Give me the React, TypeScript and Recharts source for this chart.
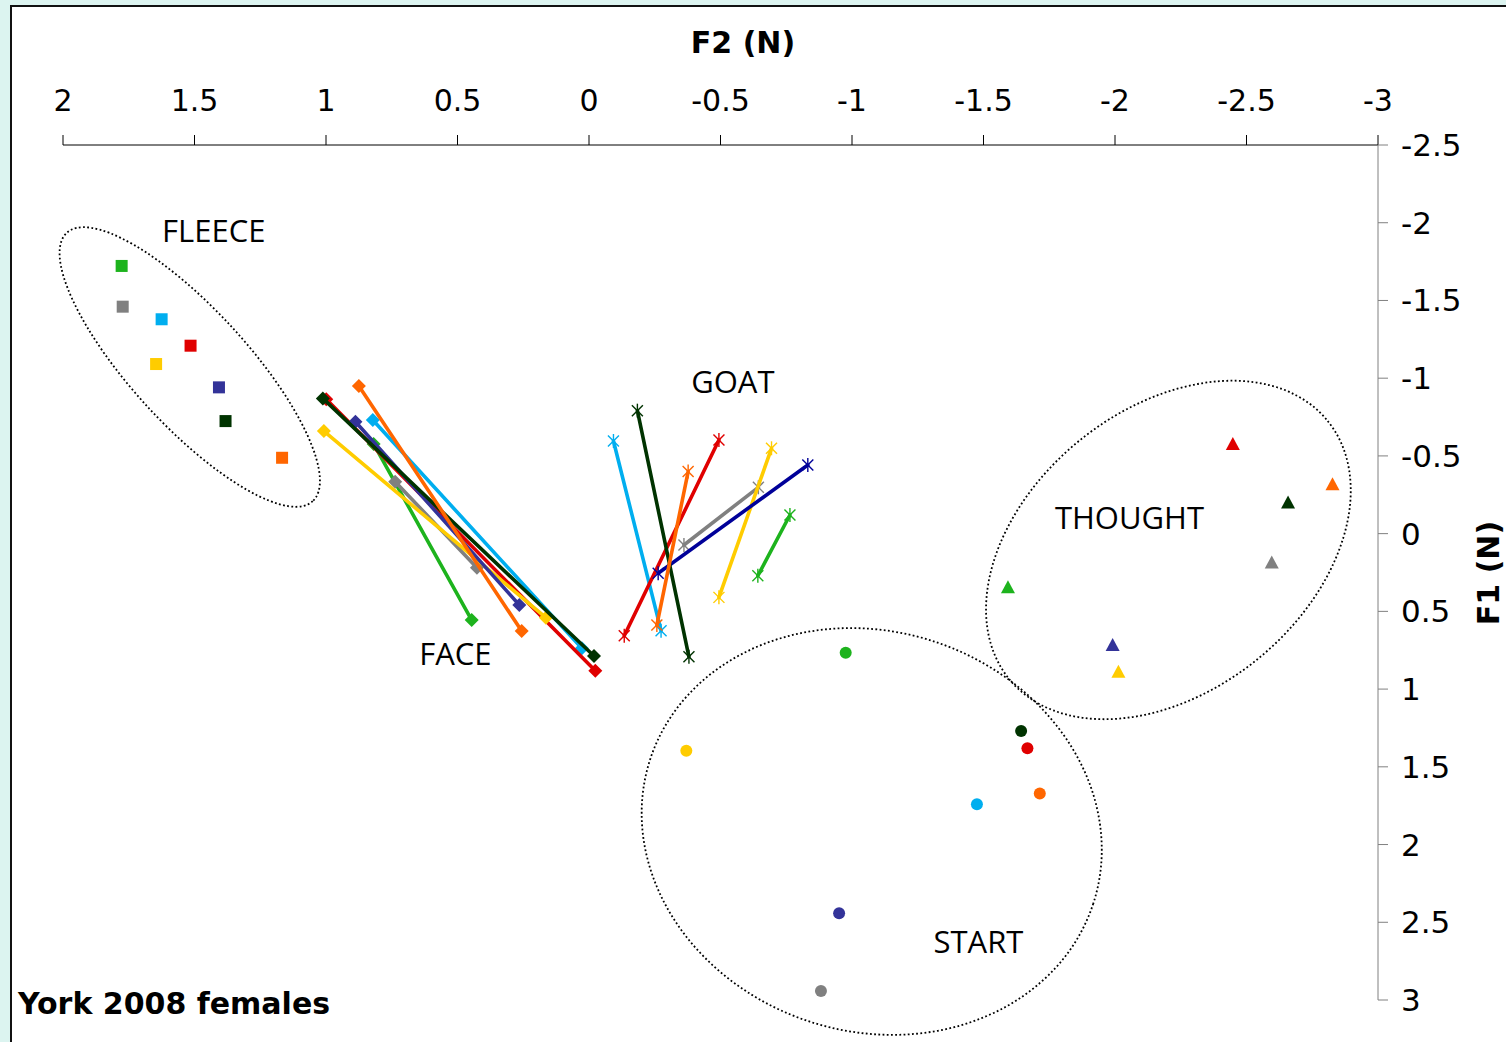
import React from 'react'
import { ScatterChart, Scatter, XAxis, YAxis, ReferenceDot } from 'recharts'

// one colour per speaker, same order in every vowel array
const speakers = ['S1', 'S2', 'S3', 'S4', 'S5', 'S6', 'S7', 'S8']
const speakerColours = ['#1DB31D', '#808080', '#00AEEF', '#E00000', '#FFCC00', '#333399', '#003300', '#FF6600']
const goatColours = ['#1DB31D', '#808080', '#00AEEF', '#E00000', '#FFCC00', '#000099', '#003300', '#FF6600']

const f2Ticks = [2, 1.5, 1, 0.5, 0, -0.5, -1, -1.5, -2, -2.5, -3]
const f1Ticks = [-2.5, -2, -1.5, -1, -0.5, 0, 0.5, 1, 1.5, 2, 2.5, 3]

const fleeceF2 = [1.777, 1.773, 1.625, 1.515, 1.646, 1.407, 1.382, 1.167]
const fleeceF1 = [-1.722, -1.46, -1.379, -1.209, -1.091, -0.941, -0.724, -0.488]

const faceOnsetF2 = [0.819, 0.737, 0.822, 0.999, 1.008, 0.888, 1.012, 0.875]
const faceOnsetF1 = [-0.577, -0.334, -0.731, -0.864, -0.66, -0.72, -0.87, -0.95]
const faceOffsetF2 = [0.446, 0.426, 0.027, -0.024, 0.164, 0.265, -0.019, 0.256]
const faceOffsetF1 = [0.556, 0.219, 0.738, 0.882, 0.541, 0.459, 0.787, 0.626]

const goatOnsetF2 = [-0.764, -0.644, -0.093, -0.494, -0.694, -0.832, -0.184, -0.377]
const goatOnsetF1 = [-0.12, -0.298, -0.596, -0.602, -0.549, -0.441, -0.791, -0.399]
const goatOffsetF2 = [-0.642, -0.361, -0.274, -0.134, -0.494, -0.263, -0.38, -0.258]
const goatOffsetF1 = [0.271, 0.073, 0.624, 0.657, 0.41, 0.255, 0.792, 0.588]

const thoughtF2 = [-1.593, -2.596, null, -2.448, -2.013, -1.991, -2.658, -2.827]
const thoughtF1 = [0.345, 0.185, null, -0.577, 0.888, 0.716, -0.201, -0.317]

const startF2 = [-0.976, -0.882, -1.475, -1.667, -0.37, -0.951, -1.643, -1.714]
const startF1 = [0.766, 2.942, 1.741, 1.381, 1.396, 2.442, 1.27, 1.671]

const vowelLabels = ['FLEECE', 'GOAT', 'FACE', 'THOUGHT', 'START']
const labelF2 = [1.427, -0.547, 0.508, -2.055, -1.481]
const labelF1 = [-1.947, -0.975, 0.774, -0.1, 2.627]

// dotted grouping ellipses: centre in data units, radii/angle in px
const ellipseF2 = [1.518, -2.203, -1.075]
const ellipseF1 = [-1.072, 0.105, 1.916]
const ellipseShape = [
  { rx: 182, ry: 58, angle: 47.5 },
  { rx: 205, ry: 141, angle: -39 },
  { rx: 233, ry: 200, angle: 18 },
]

const monophthong = (f2: (number | null)[], f1: (number | null)[]) =>
  speakers
    .map((s, i) => ({ speaker: i, name: s, f2: f2[i], f1: f1[i] }))
    .filter((d) => d.f2 !== null && d.f1 !== null)

const fleece = monophthong(fleeceF2, fleeceF1)
const thought = monophthong(thoughtF2, thoughtF1)
const start = monophthong(startF2, startF1)

const face = speakers.map((s, i) => [
  { f2: faceOnsetF2[i], f1: faceOnsetF1[i] },
  { f2: faceOffsetF2[i], f1: faceOffsetF1[i] },
])
const goat = speakers.map((s, i) => [
  { f2: goatOnsetF2[i], f1: goatOnsetF1[i] },
  { f2: goatOffsetF2[i], f1: goatOffsetF1[i] },
])

const SquareDot = (p: any) => (
  <rect x={p.cx - 6} y={p.cy - 6} width={12} height={12} fill={speakerColours[p.payload.speaker]} />
)
const TriangleDot = (p: any) => (
  <polygon
    points={`${p.cx},${p.cy - 7} ${p.cx + 7},${p.cy + 6} ${p.cx - 7},${p.cy + 6}`}
    fill={speakerColours[p.payload.speaker]}
  />
)
const CircleDot = (p: any) => <circle cx={p.cx} cy={p.cy} r={6} fill={speakerColours[p.payload.speaker]} />

const diamond = (c: string) => (p: any) => (
  <polygon points={`${p.cx},${p.cy - 7} ${p.cx + 7},${p.cy} ${p.cx},${p.cy + 7} ${p.cx - 7},${p.cy}`} fill={c} />
)
const star = (c: string) => (p: any) => (
  <g stroke={c} strokeWidth={1.4} fill="none">
    <line x1={p.cx - 5.5} y1={p.cy - 5.5} x2={p.cx + 5.5} y2={p.cy + 5.5} />
    <line x1={p.cx - 5.5} y1={p.cy + 5.5} x2={p.cx + 5.5} y2={p.cy - 5.5} />
    <line x1={p.cx} y1={p.cy - 7} x2={p.cx} y2={p.cy + 7} />
  </g>
)

// thick joining line, built from the points recharts hands over
const thickLine = (c: string) => (lp: any) => {
  const pts = (lp.points || []).filter((q: any) => q && q.x != null && q.y != null)
  if (pts.length < 2) return <g />
  const d = pts.map((q: any, k: number) => `${k ? 'L' : 'M'}${q.x},${q.y}`).join(' ')
  return <path d={d} fill="none" stroke={c} strokeWidth={3.6} strokeLinecap="round" />
}

const tickFont = { fill: '#000', fontSize: 30, fontFamily: 'DejaVu Sans' }

export default function App() {
  return (
    <div style={{ position: 'absolute', left: 0, top: 0, width: 1506, height: 1042, background: '#dcf4f0', overflow: 'hidden' }}>
      <div
        style={{
          position: 'absolute',
          left: 10,
          top: 5,
          width: 1510,
          height: 1050,
          background: '#fff',
          borderLeft: '2px solid #111',
          borderTop: '2px solid #111',
        }}
      />
      <div style={{ position: 'absolute', left: 0, top: 0 }}>
        <ScatterChart width={1506} height={1042} margin={{ top: 85, right: 48, bottom: 42, left: 63 }}>
          <XAxis
            type="number"
            dataKey="f2"
            orientation="top"
            domain={[-3, 2]}
            reversed
            ticks={f2Ticks}
            interval={0}
            height={60}
            tickSize={10}
            tickMargin={24}
            axisLine={{ stroke: '#000' }}
            tickLine={{ stroke: '#000' }}
            tick={tickFont}
          />
          <YAxis
            type="number"
            dataKey="f1"
            orientation="right"
            domain={[-2.5, 3]}
            reversed
            ticks={f1Ticks}
            interval={0}
            width={80}
            tickSize={10}
            tickMargin={13}
            axisLine={{ stroke: '#808080' }}
            tickLine={{ stroke: '#808080' }}
            tick={{ ...tickFont, fontSize: 31 }}
          />
          {ellipseF2.map((x, i) => (
            <ReferenceDot
              key={'e' + i}
              x={x}
              y={ellipseF1[i]}
              ifOverflow="visible"
              shape={(p: any) => (
                <ellipse
                  cx={p.cx}
                  cy={p.cy}
                  rx={ellipseShape[i].rx}
                  ry={ellipseShape[i].ry}
                  transform={`rotate(${ellipseShape[i].angle} ${p.cx} ${p.cy})`}
                  fill="none"
                  stroke="#000"
                  strokeWidth={1.8}
                  strokeDasharray="1.8 2.4"
                />
              )}
            />
          ))}
          {vowelLabels.map((v, i) => (
            <ReferenceDot
              key={v}
              x={labelF2[i]}
              y={labelF1[i]}
              ifOverflow="visible"
              shape={(p: any) => (
                <text x={p.cx} y={p.cy + 11} textAnchor="middle" fontSize={31} fontFamily="Open Sans" fill="#000">
                  {v}
                </text>
              )}
            />
          ))}
          {face.map((d, i) => (
            <Scatter
              key={'face' + i}
              data={d}
              fill={speakerColours[i]}
              line={thickLine(speakerColours[i])}
              shape={diamond(speakerColours[i])}
              isAnimationActive={false}
            />
          ))}
          {goat.map((d, i) => (
            <Scatter
              key={'goat' + i}
              data={d}
              fill={goatColours[i]}
              line={thickLine(goatColours[i])}
              shape={star(goatColours[i])}
              isAnimationActive={false}
            />
          ))}
          <Scatter data={fleece} shape={SquareDot} isAnimationActive={false} />
          <Scatter data={thought} shape={TriangleDot} isAnimationActive={false} />
          <Scatter data={start} shape={CircleDot} isAnimationActive={false} />
        </ScatterChart>
      </div>
      <svg width={1506} height={1042} style={{ position: 'absolute', left: 0, top: 0, pointerEvents: 'none' }}>
        <text x={743} y={53} textAnchor="middle" fontSize={30} fontWeight="bold" fontFamily="DejaVu Sans">
          F2 (N)
        </text>
        <text transform="translate(1499,573) rotate(-90)" textAnchor="middle" fontSize={30} fontWeight="bold" fontFamily="DejaVu Sans">
          F1 (N)
        </text>
        <text x={18} y={1014} fontSize={30} fontWeight="bold" fontFamily="DejaVu Sans">
          York 2008 females
        </text>
      </svg>
    </div>
  )
}
